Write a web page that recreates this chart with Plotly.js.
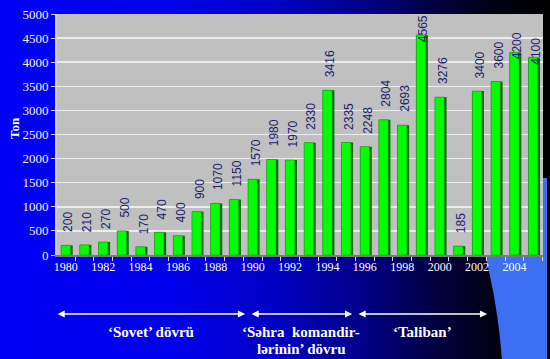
<!DOCTYPE html>
<html>
<head>
<meta charset="utf-8">
<script src="https://cdn.plot.ly/plotly-3.0.1.min.js"></script>
<style>
  html, body { margin: 0; padding: 0; width: 550px; height: 359px; overflow: hidden; }
  body { background: linear-gradient(to right, #0000f5 0%, #0000ee 30%, #0000c4 50%, #000088 66%, #00003c 80%, #000012 90%, #000000 100%); }
  #chart { width: 550px; height: 359px; }
</style>
</head>
<body>
<div id="chart"></div>
<script>
// ---- data ----
const years = [1980,1981,1982,1983,1984,1985,1986,1987,1988,1989,1990,1991,1992,1993,1994,1995,1996,1997,1998,1999,2000,2001,2002,2003,2004,2005];
const values = [200,210,270,500,170,470,400,900,1070,1150,1570,1980,1970,2330,3416,2335,2248,2804,2693,4565,3276,185,3400,3600,4200,4100];
const tickYears = [1980,1982,1984,1986,1988,1990,1992,1994,1996,1998,2000,2002,2004];
const yTicks = [0,500,1000,1500,2000,2500,3000,3500,4000,4500,5000];
const periodLine1 = ["‘Sovet’ dövrü", "‘Səhra  komandir-", "‘Taliban’"];
const periodLine2 = ["", "lərinin’ dövru", ""];
const periodSpans = [[1979.48, 1989.59], [1989.86, 1995.32], [1995.58, 2002.54]];
const yTitle = "Ton";

// ---- geometry helpers (plot area px) ----
const L = 57, R = 543, T = 14, B = 255;
const px2x = px => (px - L) / (R - L);
const py2y = py => (B - py) / (B - T);

const serif = "Liberation Serif, Times New Roman, serif";

const side = {
  type: 'bar', x: years, y: values, width: 0.62, offset: -0.25,
  marker: { color: '#0a6b0a', line: { width: 0 } }, hoverinfo: 'skip'
};
const front = {
  type: 'bar', x: years, y: values, width: 0.5, offset: -0.25,
  marker: { color: '#00ff00', line: { color: '#1f8f1f', width: 0.6 } }, hoverinfo: 'skip'
};

const annotations = [];
// value labels
values.forEach((v, i) => {
  const barTop = B - v * (B - T) / 5000;
  let ys = 11;
  if (barTop - ys - 30 < T + 20) ys = -9;
  annotations.push({
    x: years[i] + 0.15, y: v, xref: 'x', yref: 'y', text: String(v),
    textangle: -90, showarrow: false, yanchor: 'bottom', xanchor: 'center', yshift: ys,
    font: { family: 'Liberation Sans, Arial, sans-serif', size: 12, color: '#1c1c6c' }
  });
});
// y title
annotations.push({
  xref: 'paper', yref: 'paper', x: px2x(14), y: py2y(128), text: '<b>' + yTitle + '</b>',
  textangle: -90, showarrow: false, xanchor: 'center', yanchor: 'middle',
  font: { family: serif, size: 13, color: '#ffffff' }
});
// period arrows and labels
periodSpans.forEach((s, i) => {
  annotations.push({
    xref: 'x', yref: 'paper', x: s[1], y: py2y(314), axref: 'x', ayref: 'pixel', ax: s[0], ay: 0,
    text: '', showarrow: true, arrowside: 'end+start', arrowhead: 2, arrowsize: 1.1, arrowwidth: 1.3,
    arrowcolor: '#ffffff'
  });
  const cx = (s[0] + s[1]) / 2;
  annotations.push({
    xref: 'x', yref: 'paper', x: cx, y: py2y(332), text: '<b>' + periodLine1[i] + '</b>',
    showarrow: false, xanchor: 'center', yanchor: 'middle',
    font: { family: serif, size: 15, color: '#ffffff' }
  });
  if (periodLine2[i]) {
    annotations.push({
      xref: 'x', yref: 'paper', x: cx, y: py2y(349), text: '<b>' + periodLine2[i] + '</b>',
      showarrow: false, xanchor: 'center', yanchor: 'middle',
      font: { family: serif, size: 15, color: '#ffffff' }
    });
  }
});

const shapes = [
  { type: 'path', xref: 'paper', yref: 'paper', layer: 'below', line: { width: 0 }, fillcolor: '#3c6ff2',
    path: `M ${px2x(485)},${py2y(255)} Q ${px2x(497)},${py2y(300)} ${px2x(502)},${py2y(359)} L ${px2x(547)},${py2y(359)} L ${px2x(547)},${py2y(178)} L ${px2x(543)},${py2y(178)} L ${px2x(543)},${py2y(255)} Z` },
  { type: 'rect', xref: 'paper', yref: 'paper', layer: 'below', line: { width: 0 }, fillcolor: '#000000',
    x0: px2x(547), x1: px2x(551), y0: py2y(-1), y1: py2y(360) }
];

const layout = {
  width: 550, height: 359,
  margin: { l: L, r: 550 - R, t: T, b: 359 - B, pad: 0 },
  paper_bgcolor: 'rgba(0,0,0,0)', plot_bgcolor: '#c0c0c0',
  barmode: 'overlay', showlegend: false,
  xaxis: {
    type: 'linear', range: [1979.53, 2005.53], tickvals: tickYears, ticktext: tickYears.map(String),
    ticks: '', showgrid: false, zeroline: false, showline: true, linecolor: '#7a7a7a', linewidth: 2,
    tickfont: { family: serif, size: 12, color: '#ffffff' },
    minor: { tick0: 1979.5, dtick: 1, ticks: 'outside', ticklen: 4, tickcolor: '#e0e0e0', tickwidth: 1, showgrid: false },
    fixedrange: true
  },
  yaxis: {
    range: [0, 5000], tickvals: yTicks, ticks: 'outside', ticklen: 4, tickcolor: '#d0d0d0',
    showgrid: true, gridcolor: '#ececec', gridwidth: 1.5, zeroline: false,
    showline: true, linecolor: '#d0d0d0', linewidth: 2,
    tickfont: { family: serif, size: 13, color: '#f0f0f0' }, fixedrange: true
  },
  annotations: annotations,
  shapes: shapes
};

Plotly.newPlot('chart', [side, front], layout, { staticPlot: true, displayModeBar: false });
</script>
</body>
</html>
